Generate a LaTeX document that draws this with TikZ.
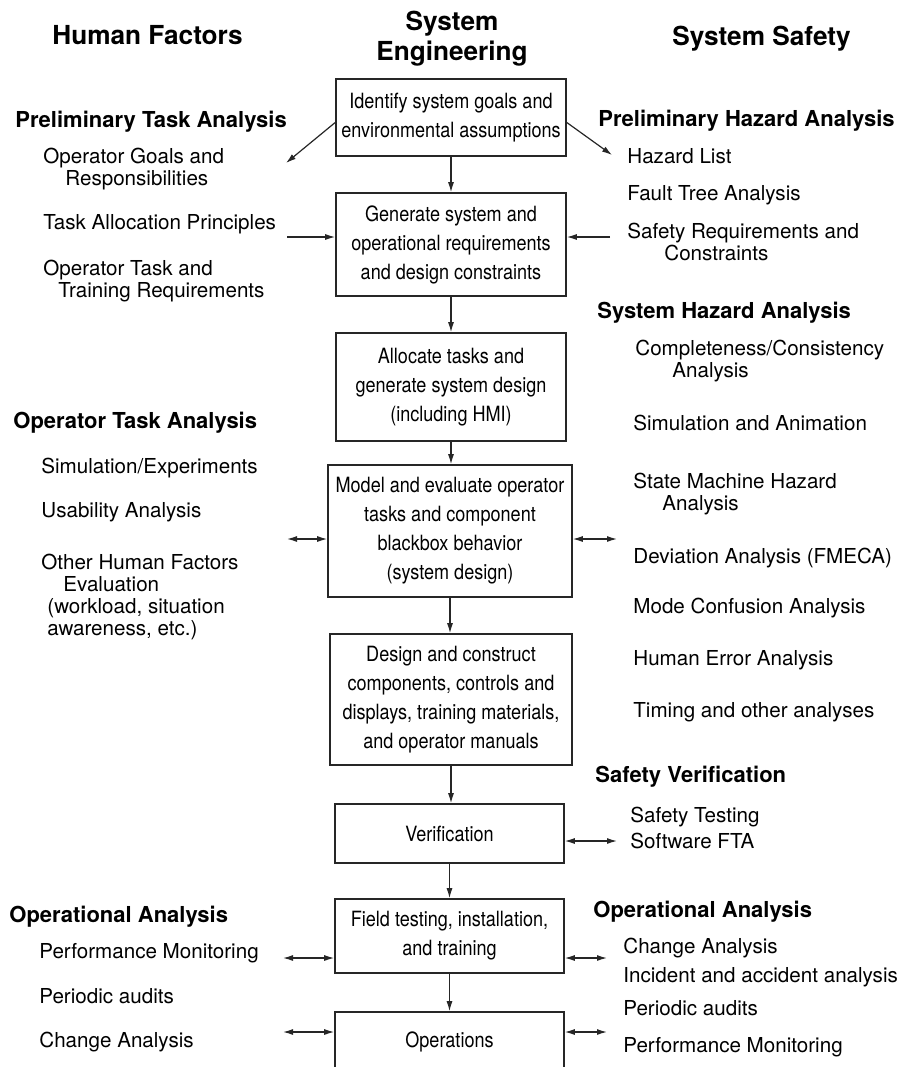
\documentclass[tikz,border=0pt]{standalone}
\usepackage{fontspec}
\setmainfont{TeX Gyre Heros}
\newfontfamily\boxfont{TeX Gyre Heros}[FakeStretch=0.86]
\usetikzlibrary{arrows.meta}

\begin{document}
\begin{tikzpicture}[x=0.5pt,y=-0.5pt,>={Latex[length=5pt,width=3pt]},
  box/.style={draw=black!85,line width=0.8pt,align=center,inner sep=0pt,font=\boxfont\fontsize{10.5}{14.5}\selectfont},
  coltitle/.style={inner sep=0pt,align=center,font=\bfseries\fontsize{13.1}{15}\selectfont},
  sect/.style={anchor=base west,inner sep=0pt,font=\bfseries\fontsize{11}{13}\selectfont},
  item/.style={anchor=base west,inner sep=0pt,align=left,font=\fontsize{10.3}{11}\selectfont},
  link/.style={line width=0.6pt,black!85}]
\clip (0,0) rectangle (902,1067);

\node[coltitle,anchor=base west] (hf) at (52,44) {Human Factors};
\node[coltitle,anchor=base] (se) at (452,60) {System\\Engineering};
\node[coltitle,anchor=base west] (ss) at (672,45) {System Safety};

\node[box,minimum width=115pt,minimum height=38.5pt] (b1) at (451,117.5) {Identify system goals and\\environmental assumptions};
\node[box,minimum width=115pt,minimum height=51.5pt] (b2) at (451,244.5) {Generate system and\\operational requirements\\and design constraints};
\node[box,minimum width=115pt,minimum height=54pt] (b3) at (451,387) {Allocate tasks and\\generate system design\\(including HMI)};
\node[box,minimum width=122pt,minimum height=66pt] (b4) at (450,531) {Model and evaluate operator\\tasks and component\\blackbox behavior\\(system design)};
\node[box,minimum width=121pt,minimum height=65.5pt] (b5) at (451,699.5) {Design and construct\\components, controls and\\displays, training materials,\\and operator manuals};
\node[box,minimum width=114.5pt,minimum height=29.5pt] (b6) at (449.5,833.5) {Verification};
\node[box,minimum width=114.5pt,minimum height=37pt] (b7) at (449.5,936) {Field testing, installation,\\and training};
\node[box,minimum width=114.5pt,minimum height=30pt] (b8) at (449.5,1042) {Operations};

\node[sect] (pta) at (15,127) {Preliminary Task Analysis};
\node[item] (goals) at (43,185) {Operator Goals and\\\hspace*{11pt}Responsibilities};
\node[item] (alloc) at (43,229) {Task Allocation Principles};
\node[item] (train) at (43,297) {Operator Task and\\\hspace*{7.5pt}Training Requirements};
\node[sect] (ota) at (13,428) {Operator Task Analysis};
\node[item] (simexp) at (41,473) {Simulation/Experiments};
\node[item] (usab) at (41,517) {Usability Analysis};
\node[item] (otherhf) at (41,635) {Other Human Factors\\\hspace*{11pt}Evaluation\\\hspace*{3pt}(workload, situation\\\hspace*{3pt}awareness, etc.)};
\node[sect] (opl) at (9,922) {Operational Analysis};
\node[item] (perfl) at (39,958) {Performance Monitoring};
\node[item] (auditl) at (39,1003) {Periodic audits};
\node[item] (changel) at (39,1047) {Change Analysis};

\node[sect] (pha) at (598,126) {Preliminary Hazard Analysis};
\node[item] (hazlist) at (627,163) {Hazard List};
\node[item] (fta) at (627,200) {Fault Tree Analysis};
\node[item] (safereq) at (627,260) {Safety Requirements and\\\hspace*{18.5pt}Constraints};
\node[sect] (sha) at (597,318) {System Hazard Analysis};
\node[item] (compl) at (635,377) {Completeness/Consistency\\\hspace*{18.5pt}Analysis};
\node[item] (simanim) at (633,430) {Simulation and Animation};
\node[item] (smha) at (633,510) {State Machine Hazard\\\hspace*{14.5pt}Analysis};
\node[item] (fmeca) at (633,563) {Deviation Analysis (FMECA)};
\node[item] (mode) at (633,613) {Mode Confusion Analysis};
\node[item] (herr) at (633,665) {Human Error Analysis};
\node[item] (timing) at (633,717) {Timing and other analyses};
\node[sect] (sv) at (595,782) {Safety Verification};
\node[item] (stest) at (630,822) {Safety Testing};
\node[item] (sfta) at (630,848) {Software FTA};
\node[sect] (opr) at (593,917) {Operational Analysis};
\node[item] (changer) at (623,953) {Change Analysis};
\node[item] (incid) at (623,982) {Incident and accident analysis};
\node[item] (auditr) at (623,1015) {Periodic audits};
\node[item] (perfr) at (623,1052) {Performance Monitoring};

\coordinate (c1l) at (286,163);
\coordinate (c1r) at (612,155);
\coordinate (c2l) at (287,237);
\coordinate (c2r) at (610,237);
\coordinate (c4l) at (287,539);
\coordinate (c4r) at (617,539);
\coordinate (c6r) at (617,841);
\coordinate (c7l) at (283,958);
\coordinate (c7r) at (607,958);
\coordinate (c8l) at (283,1032);
\coordinate (c8r) at (607,1032);

\foreach \a/\b in {b1/b2,b2/b3,b3/b4,b4/b5,b5/b6,b6/b7,b7/b8}
  \draw[link,->] (\a.south) -- (\a.south |- \b.north);
\draw[link,->] ([yshift=-2.5]b1.west) -- (c1l);
\draw[link,->] ([yshift=-2.5]b1.east) -- (c1r);
\draw[link,->] (c2l) -- (c2l -| b2.west);
\draw[link,->] (c2r) -- (c2r -| b2.east);
\draw[link,<->] (c4l) -- (c4l -| b4.west);
\draw[link,<->] (c4r -| b4.east) -- (c4r);
\draw[link,<->] (c6r -| b6.east) -- (c6r);
\draw[link,<->] (c7l) -- (c7l -| b7.west);
\draw[link,<->] (c7r -| b7.east) -- (c7r);
\draw[link,<->] (c8l) -- (c8l -| b8.west);
\draw[link,<->] (c8r -| b8.east) -- (c8r);
\end{tikzpicture}
\end{document}
